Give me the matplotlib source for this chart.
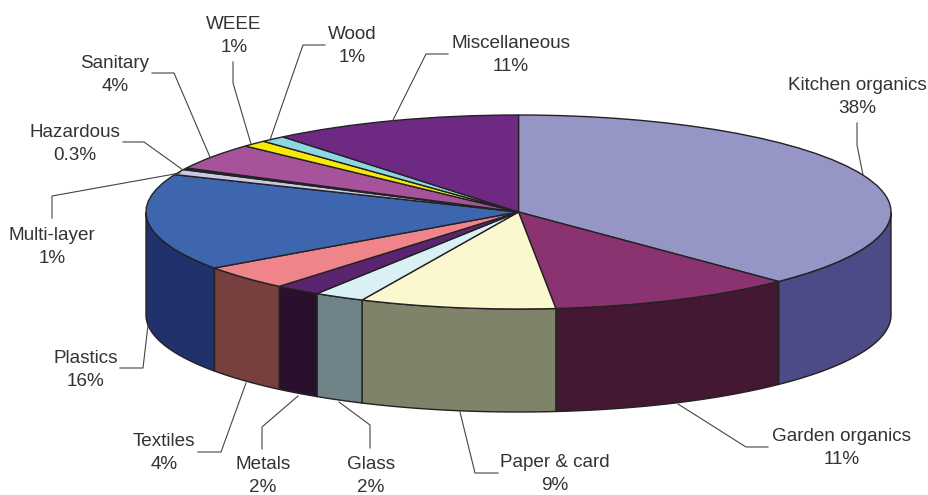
import numpy as np
import matplotlib
matplotlib.use("Agg")
import matplotlib.pyplot as plt

plt.rcParams['font.family'] = ['Liberation Sans', 'DejaVu Sans']

# clockwise from the top of the pie
names = ["Kitchen organics", "Garden organics", "Paper & card", "Glass", "Metals", "Textiles",
         "Plastics", "Multi-layer", "Hazardous", "Sanitary", "WEEE", "Wood", "Miscellaneous"]
values = [37.7, 10.7, 8.5, 2.2, 2.0, 4.1, 16.1, 0.9, 0.3, 4.4, 1.1, 1.1, 10.9]
pct_labels = ["38%", "11%", "9%", "2%", "2%", "4%", "16%", "1%", "0.3%", "4%", "1%", "1%", "11%"]
top_cols = ["#9595c6", "#8b3370", "#fbf8cf", "#d9f0f5", "#5b246e", "#ef858a", "#3e66af",
            "#c9c9e6", "#222222", "#a6539c", "#f7ea06", "#8dd6e2", "#6e2a82"]
side_cols = ["#4d4b87", "#441732", "#7f836a", "#6f8388", "#2b102e", "#773f3e", "#20316c",
             "#646473", "#111111", "#532a4e", "#7b7503", "#466b71", "#371541"]

# label centres and leader lines, in pixels of the 929x495 picture
label_xy = [(857, 97), (842, 448), (555, 474), (371, 476), (263, 476), (164, 453), (86, 370),
            (52, 247), (75, 144), (115, 75), (234, 36), (352, 46), (511, 55)]
leaders = [[(857, 123), (857, 145), (863, 175)],
           [(678, 404), (746, 447), (768, 447)],
           [(460, 412), (475, 473), (498, 473)],
           [(339, 402), (370, 425), (370, 448)],
           [(298, 396), (262, 427), (262, 449)],
           [(246, 383), (221, 452), (198, 452)],
           [(148, 325), (143, 368), (120, 368)],
           [(180, 173), (52, 196), (52, 218)],
           [(183, 170), (144, 142), (123, 142)],
           [(210, 157), (174, 73), (152, 73)],
           [(251, 144), (233, 83), (233, 62)],
           [(270, 140), (303, 45), (325, 45)],
           [(392, 122), (426, 54), (448, 54)]]

W, H = 929, 495
cx, cy, rx, ry, depth = 518.5, 212, 372.5, 97, 103
edge = "#222222"

fig = plt.figure(figsize=(W / 100, H / 100), dpi=100)

# the pie lives in its own axes, squashed into an ellipse
ax = fig.add_axes([0, 0, 1, 1])
wedges, _ = ax.pie(values, colors=top_cols, startangle=90, counterclock=False, radius=1,
                   wedgeprops=dict(edgecolor=edge, linewidth=1.0))
for w in wedges:
    w.set_zorder(3)
ax.set_aspect('auto')
ax.set_xlim(-cx / rx, (W - cx) / rx)
ax.set_ylim(-(H - cy) / ry, cy / ry)
ax.axis('off')

# side wall, only the front half of the rim can be seen
d = depth / ry
fracs = np.cumsum([0] + values) / sum(values) * 2 * np.pi
for i, col in enumerate(side_cols):
    t0 = max(fracs[i], np.pi / 2)
    t1 = min(fracs[i + 1], 3 * np.pi / 2)
    if t1 <= t0:
        continue
    t = np.linspace(t0, t1, 80)
    xs = np.sin(t)
    ys = np.cos(t)
    ax.fill(np.r_[xs, xs[::-1]], np.r_[ys, ys[::-1] - d], facecolor=col, edgecolor=edge,
            linewidth=1.0, zorder=2)

# labels and leaders drawn in picture pixels
ov = fig.add_axes([0, 0, 1, 1])
ov.set_xlim(0, W)
ov.set_ylim(H, 0)
ov.axis('off')
for name, pct, (x, y), pts in zip(names, pct_labels, label_xy, leaders):
    ov.text(x, y, name + "\n" + pct, ha='center', va='center', fontsize=13.6,
            color="#333333", linespacing=1.5)
    ov.plot([p[0] for p in pts], [p[1] for p in pts], color="#444444", lw=0.8)

fig.savefig("out.png", dpi=100)
